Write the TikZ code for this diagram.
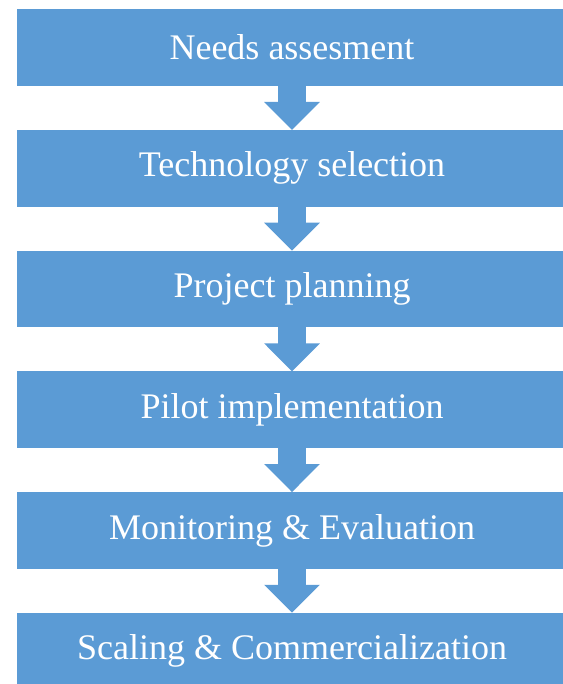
\documentclass[tikz,border=0pt]{standalone}
\usepackage{fontspec}
\setmainfont{Liberation Serif}
\usepackage{xcolor}
\usepackage{tikz}
\usetikzlibrary{arrows.meta, positioning}

\definecolor{stepblue}{HTML}{5B9BD5}

\begin{document}
\begin{tikzpicture}[
  x=1pt, y=1pt,
  node distance=44pt,
  stepbox/.style={
    fill=stepblue,
    minimum width=550pt,
    minimum height=76.7pt,
    inner sep=0pt,
    outer sep=0pt,
    text=white,
    font=\fontsize{36}{42}\selectfont,
    text centered
  },
  flow/.style={
    -{Triangle[length=28pt, width=54pt]},
    line width=28pt,
    stepblue
  }
]

\useasboundingbox (0,0) rectangle (562,684);

\node [stepbox] (needs) at (292,636.35) {Needs assesment};
\node [stepbox, below=of needs] (tech) {Technology selection};
\node [stepbox, below=of tech] (plan) {Project planning};
\node [stepbox, below=of plan] (pilot) {Pilot implementation};
\node [stepbox, below=of pilot] (monitor) {Monitoring \& Evaluation};
\node [stepbox, below=of monitor] (scale) {Scaling \& Commercialization};

\draw [flow] (needs.south) -- (tech.north);

\draw [flow] (tech.south) -- (plan.north);

\draw [flow] (plan.south) -- (pilot.north);

\draw [flow] (pilot.south) -- (monitor.north);

\draw [flow] (monitor.south) -- (scale.north);

\end{tikzpicture}
\end{document}
